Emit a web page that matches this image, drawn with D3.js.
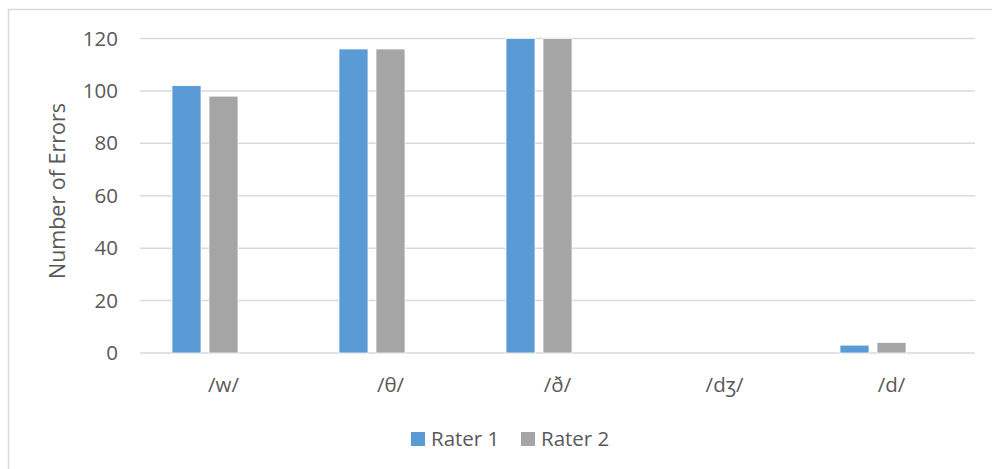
<!DOCTYPE html>
<html>
<head>
<meta charset="utf-8">
<script src="https://cdn.jsdelivr.net/npm/d3@7"></script>
<style>
  html, body { margin: 0; padding: 0; background: #fff; }
  svg { display: block; }
  text { font-family: "Open Sans", "Noto Sans", sans-serif; fill: #595959; }
</style>
</head>
<body>
<svg id="chart" width="992" height="469"></svg>
<script>
// Error counts per sound, as judged by each rater
const categories = ["/w/", "/θ/", "/ð/", "/dʒ/", "/d/"];
const seriesNames = ["Rater 1", "Rater 2"];
const rater1 = [102, 116, 120, 0, 3];
const rater2 = [98, 116, 120, 0, 4];
const yTicks = [0, 20, 40, 60, 80, 100, 120];
const colors = ["#5B9BD5", "#A5A5A5"];

const svg = d3.select("#chart");
const W = 992, H = 469;
const margin = { left: 140, right: 17, top: 38.5, bottom: 116 };
const plotW = W - margin.left - margin.right;
const plotH = H - margin.top - margin.bottom;
const FS = "20.5px";

// Outer chart frame
svg.append("rect")
  .attr("x", 8.5).attr("y", 9.5)
  .attr("width", 1000).attr("height", 500)
  .attr("fill", "#fff")
  .attr("stroke", "#D9D9D9").attr("stroke-width", 1.5);

const g = svg.append("g").attr("transform", `translate(${margin.left},${margin.top})`);

const x0 = d3.scaleBand().domain(categories).range([0, plotW]);
// Each cluster reserves three slots; the two raters fill the first two
const x1 = d3.scaleBand().domain([0, 1, 2]).range([0, x0.bandwidth()])
  .paddingOuter(0.865).paddingInner(0.216);
const y = d3.scaleLinear().domain([0, 120]).range([plotH, 0]);

// Gridlines
g.append("g")
  .selectAll("line")
  .data(yTicks)
  .join("line")
  .attr("x1", 0).attr("x2", plotW)
  .attr("y1", d => y(d)).attr("y2", d => y(d))
  .attr("stroke", "#D9D9D9").attr("stroke-width", 1.5);

// Y tick labels
const yAxis = d3.axisLeft(y).tickValues(yTicks).tickSize(0).tickPadding(22);
g.append("g").call(yAxis)
  .call(s => s.select(".domain").remove())
  .selectAll("text")
  .style("font-size", FS)
  .attr("fill", "#595959");

// X category labels
const xAxis = d3.axisBottom(x0).tickSize(0).tickPadding(24);
g.append("g").attr("transform", `translate(0,${plotH})`).call(xAxis)
  .call(s => s.select(".domain").remove())
  .selectAll("text")
  .style("font-size", FS)
  .attr("fill", "#595959");

// Bars
const seriesValues = [rater1, rater2];
seriesValues.forEach((vals, si) => {
  g.append("g")
    .selectAll("rect")
    .data(vals.map((v, i) => ({ cat: categories[i], v })))
    .join("rect")
    .attr("x", d => x0(d.cat) + x1(si))
    .attr("width", x1.bandwidth())
    .attr("y", d => y(d.v))
    .attr("height", d => plotH - y(d.v))
    .attr("fill", colors[si])
    .attr("stroke", "#fff").attr("stroke-width", 0.75);
});

// Y axis title
svg.append("text")
  .attr("transform", `translate(65,191) rotate(-90)`)
  .attr("text-anchor", "middle")
  .style("font-size", "21.5px")
  .text("Number of Errors");

// Legend
const legend = svg.append("g").attr("transform", "translate(411,432)");
const items = legend.selectAll("g").data(seriesNames).join("g")
  .attr("transform", (d, i) => `translate(${i * 110},0)`);
items.append("rect").attr("width", 14).attr("height", 14)
  .attr("fill", (d, i) => colors[i]);
items.append("text").attr("x", 20).attr("y", 14)
  .style("font-size", FS)
  .text(d => d);
</script>
</body>
</html>
